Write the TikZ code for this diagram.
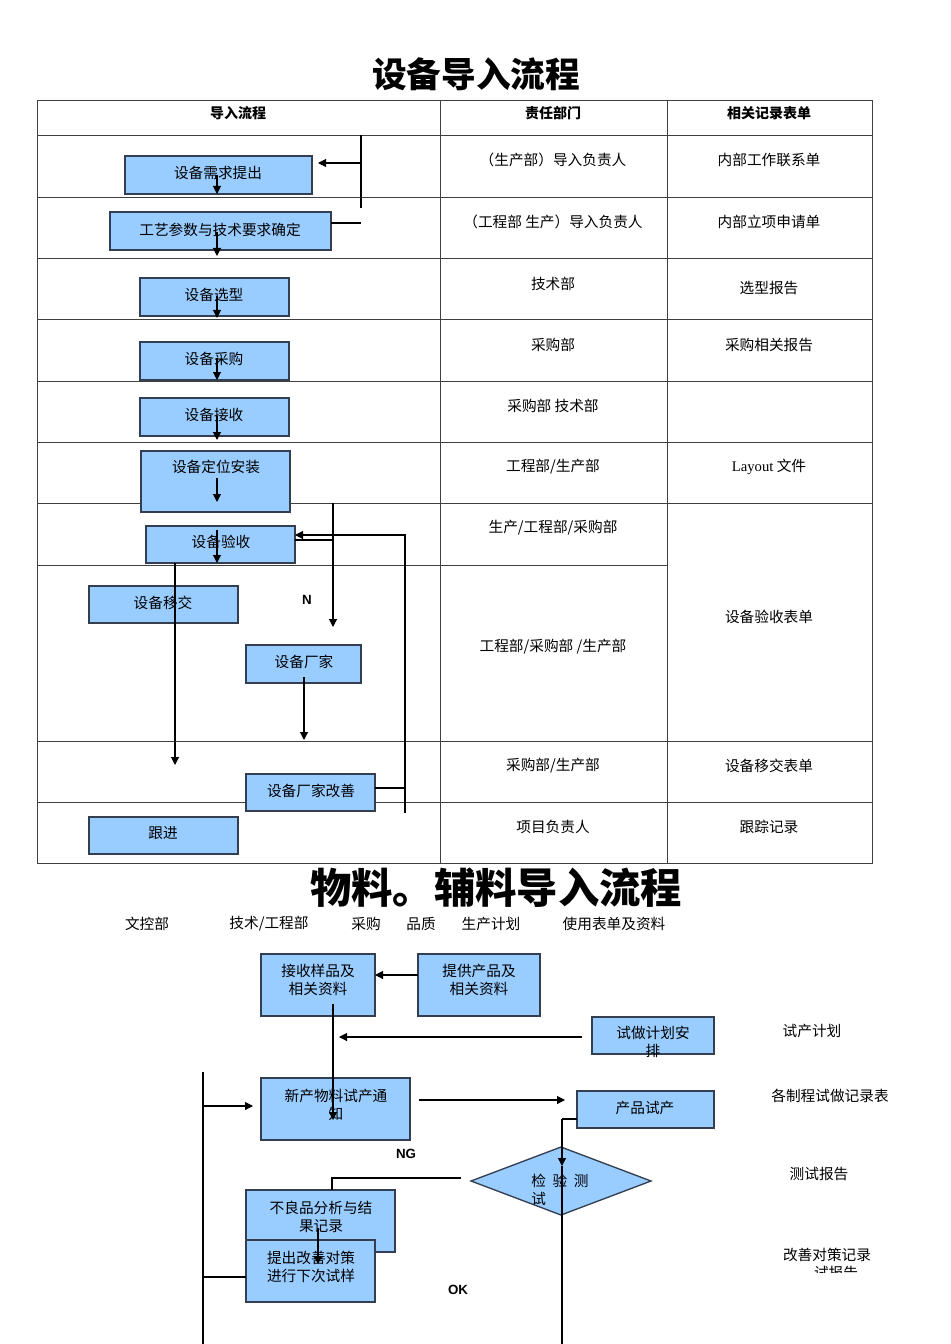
\documentclass[tikz,border=0pt]{standalone}
\usepackage{fontspec}
\setmainfont{Noto Sans CJK SC}
\newfontfamily\latf{Liberation Sans}
\newfontfamily\serf{Liberation Serif}
\usetikzlibrary{arrows.meta}
\definecolor{bx}{HTML}{99CCFF}
\definecolor{bd}{HTML}{333F50}
\begin{document}
\begin{tikzpicture}[x=0.75pt,y=-0.75pt,
  bxs/.style={draw=bd,line width=1pt,fill=bx},
  tx/.style={font=\fontsize{11}{13}\selectfont,align=center},
  arr/.style={-{Triangle[length=6pt,width=6pt]},line width=0.8pt},
  ln/.style={line width=0.8pt},
  grid/.style={draw=black!75,line width=0.6pt}]
\useasboundingbox (0,0) rectangle (950,1344);
\fill[white] (0,0) rectangle (950,1344);
% title
\node[font=\fontsize{26}{30}\selectfont\bfseries] (t1) at (476,74) {设备导入流程};
% table
\draw[grid] (37,100) rectangle (872,863);
\foreach \y in {135,197,258,319,381,442,503,741,802} \draw[grid] (37,\y) -- (872,\y);
\draw[grid] (37,565) -- (667,565);
\foreach \x in {440,667} \draw[grid] (\x,100) -- (\x,863);
\fill[white] (668,504) rectangle (871,740);
\node[tx,font=\fontsize{10.5}{12}\selectfont\bfseries] (h1) at (238,113) {导入流程};
\node[tx,font=\fontsize{10.5}{12}\selectfont\bfseries] (h2) at (553,113) {责任部门};
\node[tx,font=\fontsize{10.5}{12}\selectfont\bfseries] (h3) at (769,113) {相关记录表单};
\node[tx] (m1) at (553,160) {（生产部）导入负责人};
\node[tx] (m2) at (553,222) {（工程部 生产）导入负责人};
\node[tx] (m3) at (553,284) {技术部};
\node[tx] (m4) at (553,345) {采购部};
\node[tx] (m5) at (553,406) {采购部 技术部};
\node[tx] (m6) at (553,467) {工程部/生产部};
\node[tx] (m7) at (553,528) {生产/工程部/采购部};
\node[tx] (m8) at (553,647) {工程部/采购部 /生产部};
\node[tx] (m9) at (553,766) {采购部/生产部};
\node[tx] (m10) at (553,827) {项目负责人};
\node[tx] (r1) at (769,160) {内部工作联系单};
\node[tx] (r2) at (769,222) {内部立项申请单};
\node[tx] (r3) at (769,288) {选型报告};
\node[tx] (r4) at (769,345) {采购相关报告};
\node[tx] (r6) at (769,467) {{\serf Layout} 文件};
\node[tx] (r8) at (769,617) {设备验收表单};
\node[tx] (r9) at (769,766) {设备移交表单};
\node[tx] (r10) at (769,827) {跟踪记录};
% boxes
\draw[bxs] (125,156) rectangle (312,194); \node[tx] (b1) at (218,173) {设备需求提出};
\draw[bxs] (110,212) rectangle (331,250); \node[tx] (b2) at (220,230) {工艺参数与技术要求确定};
\draw[bxs] (140,278) rectangle (289,316); \node[tx] (b3) at (214,295) {设备选型};
\draw[bxs] (140,342) rectangle (289,380); \node[tx] (b4) at (214,359) {设备采购};
\draw[bxs] (140,398) rectangle (289,436); \node[tx] (b5) at (214,415) {设备接收};
\draw[bxs] (141,451) rectangle (290,512); \node[tx] (b6) at (216,467) {设备定位安装};
\draw[bxs] (146,526) rectangle (295,563); \node[tx] (b7) at (221,542) {设备验收};
\draw[bxs] (89,586) rectangle (238,623); \node[tx] (b8) at (163,603) {设备移交};
\draw[bxs] (246,645) rectangle (361,683); \node[tx] (b9) at (304,662) {设备厂家};
\draw[bxs] (246,774) rectangle (375,811); \node[tx] (b10) at (311,791) {设备厂家改善};
\draw[bxs] (89,817) rectangle (238,854); \node[tx] (b11) at (163,833) {跟进};
% arrows
\foreach \a/\b in {175/194,232/256,296/318,358/380,416/440,478/502,530/563}
  \draw[arr] (217,\a) -- (217,\b);
\draw[ln] (361,135) -- (361,208);
\draw[arr] (361,163) -- (318,163);
\draw[ln] (331,223) -- (361,223);
\draw[arr] (333,503) -- (333,627);
\draw[ln] (295,540) -- (333,540);
\node[font=\latf\fontsize{10}{12}\selectfont\bfseries] (N) at (307,600) {N};
\draw[ln] (375,788) -- (405,788) -- (405,813);
\draw[arr] (405,788) -- (405,535) -- (295,535);
\draw[arr] (175,563) -- (175,765);
\draw[arr] (304,677) -- (304,740);
% second part
\node[font=\fontsize{31}{34}\selectfont\bfseries] (t2) at (496,888) {物料。辅料导入流程};
\node[tx] (k1) at (147,924) {文控部};
\node[tx] (k2) at (269,924) {技术/工程部};
\node[tx] (k3) at (366,924) {采购};
\node[tx] (k4) at (421,924) {品质};
\node[tx] (k5) at (491,924) {生产计划};
\node[tx] (k6) at (614,924) {使用表单及资料};
\draw[bxs] (261,954) rectangle (375,1016); \node[tx] (c1) at (318,980) {接收样品及\\相关资料};
\draw[bxs] (418,954) rectangle (540,1016); \node[tx] (c2) at (479,980) {提供产品及\\相关资料};
\draw[bxs] (592,1017) rectangle (714,1054); \node[tx] (c3) at (653,1042) {试做计划安\\排};
\draw[bxs] (261,1078) rectangle (410,1140); \node[tx] (c4) at (336,1105) {新产物料试产通\\知};
\draw[bxs] (577,1091) rectangle (714,1128); \node[tx] (c5) at (645,1108) {产品试产};
\draw[bxs] (561,1147) -- (651,1181) -- (561,1215) -- (471,1181) -- cycle;
\node[tx,align=left] (c6) at (560,1190) {检\ \ 验\ \ 测\\试};
\draw[bxs] (246,1190) rectangle (395,1252); \node[tx] (c7) at (321,1217) {不良品分析与结\\果记录};
\draw[bxs] (246,1240) rectangle (375,1302); \node[tx] (c8) at (311,1267) {提出改善对策\\进行下次试样};
\draw[arr] (418,975) -- (375,975);
\draw[arr] (582,1037) -- (339,1037);
\draw[arr] (333,1004) -- (333,1120);
\draw[arr] (419,1100) -- (565,1100);
\draw[ln] (577,1119) -- (562,1119);
\draw[arr] (562,1119) -- (562,1166);
\draw[ln] (562,1166) -- (562,1344);
\draw[ln] (461,1178) -- (332,1178) -- (332,1190);
\draw[arr] (318,1228) -- (318,1264);
\draw[ln] (203,1072) -- (203,1344);
\draw[arr] (203,1106) -- (253,1106);
\draw[ln] (203,1277) -- (246,1277);
\node[font=\latf\fontsize{10}{12}\selectfont\bfseries] (NG) at (406,1154) {NG};
\node[font=\latf\fontsize{10}{12}\selectfont\bfseries] (OK) at (458,1290) {OK};
\node[tx] (d1) at (812,1031) {试产计划};
\node[tx] (d2) at (830,1096) {各制程试做记录表};
\node[tx] (d3) at (819,1174) {测试报告};
\node[tx] (d4) at (827,1255) {改善对策记录};
\begin{scope}
\clip (700,1262) rectangle (950,1272);
\node[tx] (d5) at (836,1273) {试报告};
\end{scope}
\end{tikzpicture}
\end{document}
